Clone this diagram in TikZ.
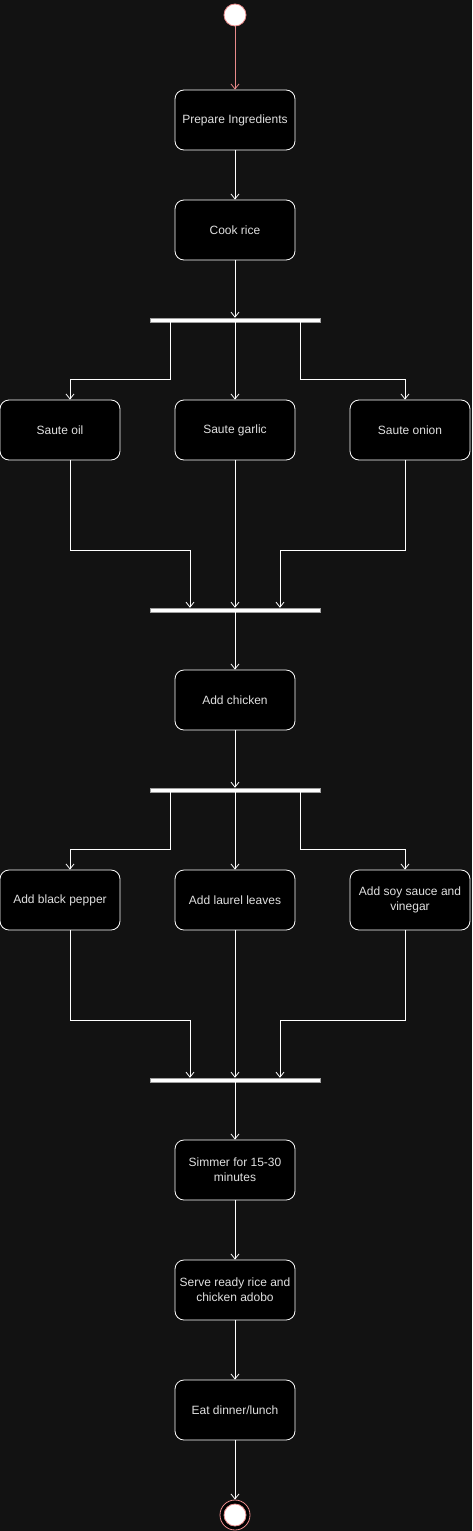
\documentclass[tikz,border=0pt]{standalone}
\usepackage{fontspec}
\setmainfont{Liberation Sans}
\usetikzlibrary{arrows.meta}
\definecolor{bg}{HTML}{121212}
\definecolor{startred}{HTML}{E88A8A}
\definecolor{txt}{HTML}{E0E0E0}
\definecolor{barline}{HTML}{A0A0A0}
\begin{document}
\begin{tikzpicture}[x=1pt,y=-1pt]%
  \tikzstyle{action}=[rectangle,rounded corners=9pt,draw=white,fill=black,text=txt,line width=0.8pt,
    minimum width=120pt,minimum height=60pt,inner sep=2pt,align=center,font=\fontsize{12}{15}\selectfont]
  \tikzstyle{bar}=[rectangle,draw=barline,fill=white,line width=0.5pt,minimum width=170pt,minimum height=4pt,inner sep=0]
  \tikzstyle{initial}=[circle,draw=startred,fill=white,line width=0.8pt,minimum size=22pt,inner sep=0]
  \tikzstyle{final}=[circle,draw=startred,fill=black,line width=0.8pt,minimum size=30pt,inner sep=0]
  \tikzstyle{flow}=[draw=white,line width=0.8pt,-{Straight Barb[length=5pt,width=8pt]}]
  \fill[bg] (0,0) rectangle (472,1531);
  \useasboundingbox (0,0) rectangle (472,1531);
  % nodes
  \node(start)[initial] at (235,15) {};
  \node(prep)[action] at (235,120) {Prepare Ingredients};
  \node(cook)[action] at (235,230) {Cook rice};
  \node(fork1)[bar] at (235,320) {};
  \node(oil)[action] at (60,430) {Saute oil};
  \node(garlic)[action] at (235,430) {Saute garlic};
  \node(onion)[action] at (410,430) {Saute onion};
  \node(join1)[bar] at (235,610) {};
  \node(chicken)[action] at (235,700) {Add chicken};
  \node(fork2)[bar] at (235,790) {};
  \node(pepper)[action] at (60,900) {Add black pepper};
  \node(laurel)[action] at (235,900) {Add laurel leaves};
  \node(soy)[action] at (410,900) {Add soy sauce and\\vinegar};
  \node(join2)[bar] at (235,1080) {};
  \node(simmer)[action] at (235,1170) {Simmer for 15-30\\minutes};
  \node(serve)[action] at (235,1290) {Serve ready rice and\\chicken adobo};
  \node(eat)[action] at (235,1410) {Eat dinner/lunch};
  \node(stop)[final] at (235,1515) {};
  \node(stopin)[initial] at (stop) {};
  % connectors
  \draw[flow,draw=startred] (start) -- (prep);
  \draw[flow] (prep) -- (cook);
  \draw[flow] (cook) -- (fork1);
  \draw[flow] ([xshift=-65pt]fork1.south) |- ([xshift=10pt,yshift=20pt]oil.north) -- ([xshift=10pt]oil.north);
  \draw[flow] (fork1.south) -- (garlic);
  \draw[flow] ([xshift=65pt]fork1.south) |- ([xshift=-5pt,yshift=20pt]onion.north) -- ([xshift=-5pt]onion.north);
  \draw[flow] ([xshift=10pt]oil.south) -- ++(0,90) -| ([xshift=-45pt]join1.north);
  \draw[flow] (garlic) -- (join1);
  \draw[flow] ([xshift=-5pt]onion.south) -- ++(0,90) -| ([xshift=45pt]join1.north);
  \draw[flow] (join1) -- (chicken);
  \draw[flow] (chicken) -- (fork2);
  \draw[flow] ([xshift=-65pt]fork2.south) |- ([xshift=10pt,yshift=20pt]pepper.north) -- ([xshift=10pt]pepper.north);
  \draw[flow] (fork2.south) -- (laurel);
  \draw[flow] ([xshift=65pt]fork2.south) |- ([xshift=-5pt,yshift=20pt]soy.north) -- ([xshift=-5pt]soy.north);
  \draw[flow] ([xshift=10pt]pepper.south) -- ++(0,90) -| ([xshift=-45pt]join2.north);
  \draw[flow] (laurel) -- (join2);
  \draw[flow] ([xshift=-5pt]soy.south) -- ++(0,90) -| ([xshift=45pt]join2.north);
  \draw[flow] (join2) -- (simmer);
  \draw[flow] (simmer) -- (serve);
  \draw[flow] (serve) -- (eat);
  \draw[flow] (eat) -- (stop);
\end{tikzpicture}
\end{document}
